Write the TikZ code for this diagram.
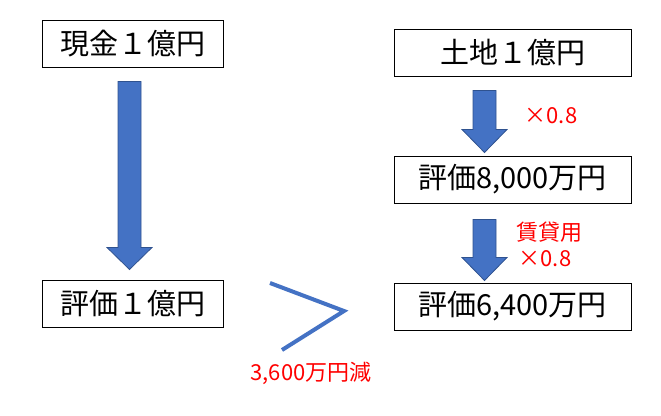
\documentclass[tikz,border=0pt]{standalone}
\usepackage{fontspec}
\setmainfont{Noto Sans CJK JP}
\usepackage{tikz}
\usetikzlibrary{positioning, calc}
\usepackage{xcolor}
\definecolor{arrowblue}{HTML}{4472C4}
\definecolor{darkblue}{HTML}{2F528F}
\definecolor{notered}{HTML}{FF0000}

\begin{document}
\begin{tikzpicture}[x=1pt, y=-1pt,
  valuebox/.style={rectangle, draw=black, line width=1pt, minimum height=47pt,
                   inner sep=0pt, font=\fontsize{29}{34}\selectfont},
  blockarrow/.style={fill=arrowblue, draw=darkblue, line width=0.8pt},
  note/.style={text=notered, font=\fontsize{22}{26}\selectfont, inner sep=0pt}]
\useasboundingbox (0,0) rectangle (661,415);

% left column
\node[valuebox, minimum width=181pt] (genkin) at (132.5,43.5) {現金１億円};
\node[valuebox, minimum width=181pt] (hyokaichi) at (132.5,303.5) {評価１億円};

% right column
\node[valuebox, minimum width=237pt] (tochi) at (512.5,52.5) {土地１億円};
\node[valuebox, minimum width=237pt] (hyokahassen) at (512.5,179.5) {評価8,000万円};
\node[valuebox, minimum width=237pt] (hyokarokusen) at (512.5,306.5) {評価6,400万円};

% block arrows: start, head base, tip
\coordinate (las) at ([xshift=-3pt, yshift=-14pt]genkin.south);
\coordinate (lah) at ([xshift=-3pt, yshift=32pt]hyokaichi.north);
\coordinate (lae) at ([xshift=-3pt, yshift=10pt]hyokaichi.north);
\coordinate (ras) at ([xshift=-28pt, yshift=-14pt]tochi.south);
\coordinate (rah) at ([xshift=-28pt, yshift=26pt]hyokahassen.north);
\coordinate (rae) at ([xshift=-28pt, yshift=3pt]hyokahassen.north);
\coordinate (rbs) at ([xshift=-28pt, yshift=-16pt]hyokahassen.south);
\coordinate (rbh) at ([xshift=-28pt, yshift=25pt]hyokarokusen.north);
\coordinate (rbe) at ([xshift=-28pt, yshift=2pt]hyokarokusen.north);
\foreach \s/\h/\e in {las/lah/lae, ras/rah/rae, rbs/rbh/rbe}
  \draw[blockarrow] ($(\s)+(-11.5,0)$) -- ($(\h)+(-11.5,0)$) -- ($(\h)+(-22.5,0)$)
    -- (\e) -- ($(\h)+(22.5,0)$) -- ($(\h)+(11.5,0)$) -- ($(\s)+(11.5,0)$) -- cycle;

% comparison sign
\coordinate (gttop) at (270,283);
\coordinate (gttip) at (344,311);
\coordinate (gtbot) at (282,350);
\draw[arrowblue, line width=4pt] (gttop) -- (gttip) -- (gtbot);

% notes
\node[note] (rate) at (551,116) {×0.8};
\node[note] (chintai) at (549,232) {賃貸用};
\node[note] (ratetwo) at (545,259) {×0.8};
\node[note] (gen) at (311,373) {3,600万円減};
\end{tikzpicture}
\end{document}
